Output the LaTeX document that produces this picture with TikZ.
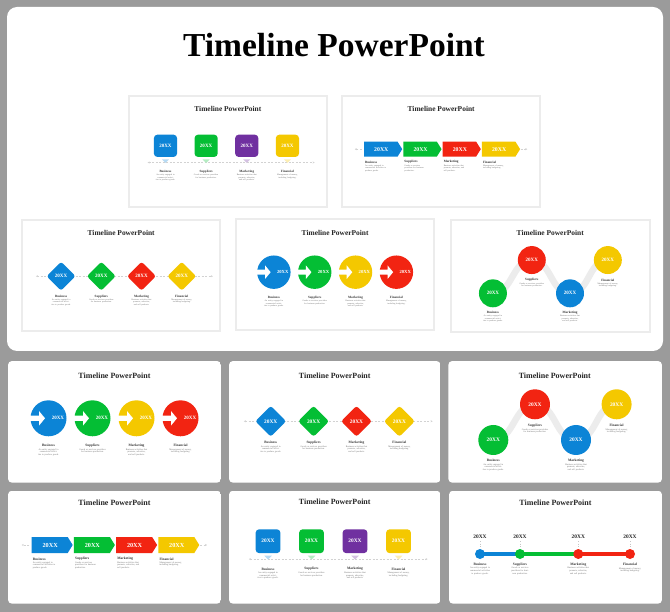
\documentclass[tikz,border=0pt]{standalone}
\usepackage{fontspec}
\setmainfont{Liberation Serif}
\usetikzlibrary{arrows.meta}
\definecolor{cblue}{RGB}{12,132,214}
\definecolor{cgreen}{RGB}{4,190,52}
\definecolor{cyellow}{RGB}{244,200,0}
\definecolor{cred}{RGB}{242,36,18}
\definecolor{cpurple}{RGB}{112,48,160}
\definecolor{bgc}{RGB}{155,155,155}
\definecolor{band}{RGB}{236,236,236}
\newcommand\descA{An entity engaged in commercial activities to produce goods.}
\newcommand\descB{Goods or services providers for business production.}
\newcommand\descC{Business activities that promote, advertise, and sell products.}
\newcommand\descD{Management of money, including budgeting.}
\tikzset{
 slidetitle/.style={font=\bfseries\fontsize{8}{8}\selectfont, inner sep=0pt, text=black!85},
 lbl/.style={font=\bfseries\fontsize{3.5}{3.5}\selectfont, inner sep=0pt, text=black!80},
 desc/.style={font=\fontsize{2.3}{2.7}\selectfont, inner sep=0pt, text width=27pt, align=center, anchor=north, text=black!55},
 descl/.style={desc, anchor=north west, align=left, text width=25pt},
 yr/.style={font=\bfseries\fontsize{5.4}{5.4}\selectfont, inner sep=0pt, text=white},
 dline/.style={gray!35, line width=0.5pt, dash pattern=on 2pt off 1.5pt},
 stip/.tip={Stealth[length=2pt,width=2pt]},
}
% centred label + description: x, label y, suffix, label, text
\newcommand\lblitem[5]{%
  \node[lbl] (-l#3) at (#1,#2) {#4};
  \node[desc] (-d#3) at (#1,#2+2.6) {#5};}
\newcommand\lblleft[5]{%
  \node[lbl, anchor=west] (-l#3) at (#1,#2) {#4};
  \node[descl] (-d#3) at (#1,#2+2.4) {#5};}
\tikzset{
 design1/.pic={
  \node[slidetitle] (-t) at (106.5,14.7) {Timeline PowerPoint};
  \foreach \k/\x/\c in {1/40.5/cblue,2/84.5/cgreen,3/128.5/cyellow,4/172.5/cred}{
    \node[circle, fill=\c, minimum size=36pt, inner sep=0pt] (-c\k) at (\x,57.3) {};
    \fill[white] (\x-19,54.6) -- (\x-9.5,54.6) -- (\x-9.5,50) -- (\x-3.5,57.3)
      -- (\x-9.5,64.6) -- (\x-9.5,60) -- (\x-19,60) -- cycle;
    \node[yr, font=\bfseries\fontsize{5}{5}\selectfont] (-y\k) at (\x+9.5,57.3) {20XX};
  }
  \lblitem{40.5}{84.7}{1}{Business}{\descA}
  \lblitem{84.5}{84.7}{2}{Suppliers}{\descB}
  \lblitem{128.5}{84.7}{3}{Marketing}{\descC}
  \lblitem{172.5}{84.7}{4}{Financial}{\descD}
 },
 design2/.pic={
  \node[slidetitle] (-t) at (106.5,14.7) {Timeline PowerPoint};
  \coordinate (-a) at (15,60.7); \coordinate (-b) at (205,60.7);
  \draw[dline, {stip}-{stip}] (-a) -- (-b);
  \foreach \k/\x/\c in {1/42/cblue,2/85.2/cgreen,3/128.4/cred,4/171.6/cyellow}{
    \fill[\c, rounded corners=2.5pt] (\x-15.5,60.7) -- (\x,45.2) -- (\x+15.5,60.7) -- (\x,76.2) -- cycle;
    \node[yr] (-y\k) at (\x,60.7) {20XX};
  }
  \lblitem{42}{82.3}{1}{Business}{\descA}
  \lblitem{85.2}{82.3}{2}{Suppliers}{\descB}
  \lblitem{128.4}{82.3}{3}{Marketing}{\descC}
  \lblitem{171.6}{82.3}{4}{Financial}{\descD}
 },
 design3/.pic={
  \node[slidetitle] (-t) at (106.5,14.7) {Timeline PowerPoint};
  \coordinate (-p1) at (45,79); \coordinate (-p2) at (86.7,43.3);
  \coordinate (-p3) at (127.7,79); \coordinate (-p4) at (168.3,43.3);
  \draw[band, line width=6.5pt] (-p1) .. controls (66,79) and (65.7,43.3) .. (-p2)
     .. controls (107.7,43.3) and (106.7,79) .. (-p3)
     .. controls (148.7,79) and (147.3,43.3) .. (-p4);
  \foreach \k/\c in {1/cgreen,2/cred,3/cblue,4/cyellow}{
    \node[circle, fill=\c, minimum size=30pt, inner sep=0pt] (-c\k) at (-p\k) {};
    \node[yr] (-y\k) at (-p\k) {20XX};
  }
  \lblitem{45}{99.7}{1}{Business}{\descA}
  \lblitem{86.7}{64.7}{2}{Suppliers}{\descB}
  \lblitem{127.7}{99.7}{3}{Marketing}{\descC}
  \lblitem{168.3}{64.7}{4}{Financial}{\descD}
 },
 design4/.pic={
  \node[slidetitle] (-t) at (106.5,14.7) {Timeline PowerPoint};
  \coordinate (-a0) at (21.3,57.4); \coordinate (-a1) at (13.7,57.4);
  \coordinate (-b0) at (192,57.4); \coordinate (-b1) at (199,57.4);
  \draw[dline, -{stip}] (-a0) -- (-a1);
  \draw[dline, -{stip}] (-b0) -- (-b1);
  \foreach \k/\x/\c in {1/23.7/cblue,2/65.9/cgreen,3/108.1/cred,4/150.3/cyellow}{
    \fill[\c] (\x,49.4) -- (\x+36,49.4) -- (\x+41,57.4) -- (\x+36,65.4) -- (\x,65.4) -- cycle;
    \node[yr, font=\bfseries\fontsize{6.2}{6.2}\selectfont] (-y\k) at (\x+18.5,57.4) {20XX};
  }
  \lblleft{24.7}{71.4}{1}{Business}{\descA}
  \lblleft{66.9}{71.4}{2}{Suppliers}{\descB}
  \lblleft{109.1}{71.4}{3}{Marketing}{\descC}
  \lblleft{151.3}{71.4}{4}{Financial}{\descD}
 },
 design5/.pic={
  \node[slidetitle] (-t) at (106.5,14.7) {Timeline PowerPoint};
  \coordinate (-a) at (20,72); \coordinate (-b) at (200,72);
  \draw[dline, {stip}-{stip}] (-a) -- (-b);
  \foreach \k/\x/\c in {1/39.3/cblue,2/83.1/cgreen,3/126.9/cpurple,4/170.7/cyellow}{
    \fill[\c, rounded corners=3.5pt] (\x-12.5,42) rectangle (\x+12.5,66);
    \fill[\c!30] (\x-3.8,68.6) -- (\x+3.8,68.6) -- (\x,72.4) -- cycle;
    \node[yr] (-y\k) at (\x,54) {20XX};
  }
  \lblitem{39.3}{82}{1}{Business}{\descA}
  \lblitem{83.1}{82}{2}{Suppliers}{\descB}
  \lblitem{126.9}{82}{3}{Marketing}{\descC}
  \lblitem{170.7}{82}{4}{Financial}{\descD}
 },
 design6/.pic={
  \node[slidetitle] (-t) at (106.5,14.7) {Timeline PowerPoint};
  \coordinate (-p1) at (31,66.4); \coordinate (-p2) at (71,66.4);
  \coordinate (-p3) at (129.3,66.4); \coordinate (-p4) at (181,66.4);
  \draw[cblue, line width=3.5pt] (-p1) -- (-p2);
  \draw[cgreen, line width=3.5pt] (-p2) -- (-p3);
  \draw[cred, line width=3.5pt] (-p3) -- (-p4);
  \foreach \k/\x/\c in {1/31/cblue,2/71/cgreen,3/129.3/cred,4/181/cred}{
    \fill[\c] (-p\k) circle (5pt);
    \node[yr, text=black!85] (-y\k) at (\x,49.4) {20XX};
    \draw[gray!45, line width=0.4pt, dotted] (\x,53.7) -- (\x,60.4);
  }
  \begin{scope}[desc/.append style={text width=23pt}]
  \lblitem{31}{77}{1}{Business}{\descA}
  \lblitem{71}{77}{2}{Suppliers}{\descB}
  \lblitem{129.3}{77}{3}{Marketing}{\descC}
  \lblitem{181}{77}{4}{Financial}{\descD}
  \end{scope}
 },
}
% slide inside the top panel: name, design, x, y, scale
\newcommand\topslide[5]{%
  \draw[gray!15, line width=2pt, fill=white] (#3,#4) rectangle ++(213*#5,120*#5);
  \pic[shift={(#3,#4)}, scale=#5, transform shape] (#1) {#2};}
% slide of the lower grid: name, design, x0, y0, x1, y1, virtual top, scale
\newcommand\gridslide[8]{%
  \begin{scope}
    \clip[rounded corners=4pt] (#3,#4) rectangle (#5,#6);
    \fill[white] (#3,#4) rectangle (#5,#6);
    \pic[shift={(#3,#7)}, scale=#8, transform shape] (#1) {#2};
  \end{scope}}
\begin{document}
\begin{tikzpicture}[x=1pt,y=-1pt]
  \fill[bgc] (0,0) rectangle (670,612);
  \useasboundingbox (0,0) rectangle (670,612);
  \fill[white, rounded corners=10pt] (7,7) rectangle (663,351);
  \node[font=\bfseries\fontsize{33.5}{33.5}\selectfont, inner sep=0pt] (title) at (334,45) {Timeline PowerPoint};
  \topslide{A}{design5}{129}{95.7}{0.928}
  \topslide{B}{design4}{342}{95.7}{0.931}
  \topslide{C}{design2}{22}{219.7}{0.931}
  \topslide{D}{design1}{236.3}{219}{0.928}
  \topslide{E}{design3}{451}{219.7}{0.932}
  \gridslide{G1}{design1}{8}{361}{221}{482.7}{361}{1}
  \gridslide{G2}{design2}{229}{361}{440.5}{482.7}{361}{0.993}
  \gridslide{G3}{design3}{448.3}{361}{662}{482.7}{361}{1}
  \gridslide{G4}{design4}{8}{490.7}{221}{603.7}{487.6}{1}
  \gridslide{G5}{design5}{229}{490.7}{440.5}{603.7}{487.6}{0.993}
  \gridslide{G6}{design6}{449}{490.7}{662}{603.7}{487.6}{1}
\end{tikzpicture}
\end{document}
